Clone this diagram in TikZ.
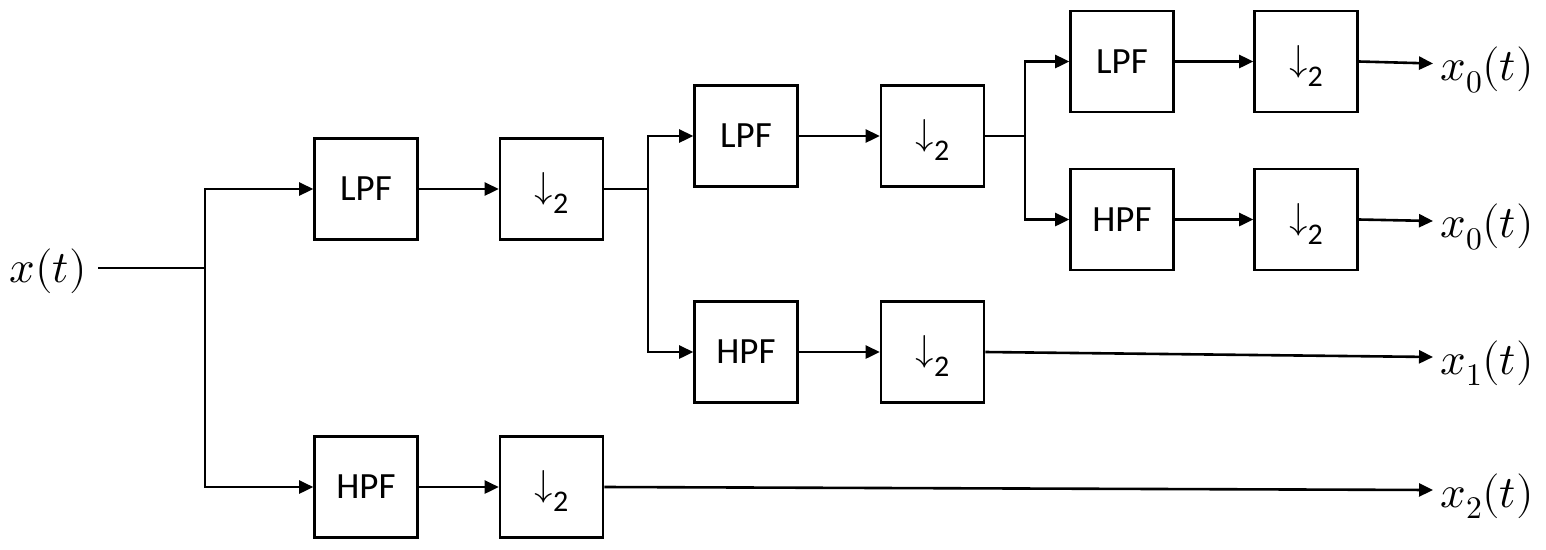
\documentclass[tikz,border=0pt]{standalone}
\usepackage{fontspec}
\usepackage{unicode-math}
\setmainfont{Carlito}
\setmathfont{Latin Modern Math}
\usetikzlibrary{arrows.meta}
\begin{document}
\begin{tikzpicture}[x=1pt,y=-1pt,
  line width=2.6pt,
  block/.style={draw, minimum width=103pt, minimum height=101pt, inner sep=0pt,
    font=\fontsize{37}{40}\selectfont},
  arr/.style={-{Triangle[length=14pt,width=13pt]}},
  sig/.style={inner sep=0pt, font=\fontsize{45}{48}\selectfont},
]
\newcommand{\dsamp}{$\downarrow$\smash{\raisebox{-15pt}{\fontsize{30}{30}\selectfont 2}}}
\useasboundingbox (0,0) rectangle (1546,549);

% input
\node[sig, anchor=east] (xin) at (88,271) {$x(t)$};
\coordinate (j1) at (205,268);

% first stage
\node[block] (lpf1) at (366,189) {LPF};
\node[block] (ds1)  at (551.5,189) {\dsamp};
\node[block] (hpf1) at (366,487) {HPF};
\node[block] (ds4)  at (551.5,487) {\dsamp};
\coordinate (j2) at (648,189);

% second stage
\node[block] (lpf2) at (746,136) {LPF};
\node[block] (ds2)  at (932.5,136) {\dsamp};
\node[block] (hpf2) at (746,352) {HPF};
\node[block] (ds3)  at (932.5,352) {\dsamp};
\coordinate (j3) at (1025,136);

% third stage
\node[block] (lpf3) at (1122,61.5) {LPF};
\node[block] (ds5)  at (1306,61.5) {\dsamp};
\node[block] (hpf3) at (1122,219.5) {HPF};
\node[block] (ds6)  at (1306,219.5) {\dsamp};

% output ends
\coordinate (e0a) at (1433,63.5);
\coordinate (e0b) at (1433,221);
\coordinate (e1)  at (1433,357);
\coordinate (e2)  at (1433,490);
\node[sig, anchor=west] (y0a) at (1439,70) {$x_0(t)$};
\node[sig, anchor=west] (y0b) at (1439,227) {$x_0(t)$};
\node[sig, anchor=west] (y1)  at (1439,363) {$x_1(t)$};
\node[sig, anchor=west] (y2)  at (1439,496) {$x_2(t)$};

% connectors
\draw ([xshift=10pt]xin.east |- j1) -- (j1);
\draw[arr] (j1) |- (lpf1.west);
\draw[arr] (j1) |- (hpf1.west);
\draw[arr] (lpf1) -- (ds1);
\draw[arr] (hpf1) -- (ds4);
\draw (ds1.east) -- (j2);
\draw[arr] (j2) |- (lpf2.west);
\draw[arr] (j2) |- (hpf2.west);
\draw[arr] (lpf2) -- (ds2);
\draw[arr] (hpf2) -- (ds3);
\draw (ds2.east) -- (j3);
\draw[arr] (j3) |- (lpf3.west);
\draw[arr] (j3) |- (hpf3.west);
\draw[arr] (lpf3) -- (ds5);
\draw[arr] (hpf3) -- (ds6);
\draw[arr] (ds5.east) -- (e0a);
\draw[arr] (ds6.east) -- (e0b);
\draw[arr] (ds3.east) -- (e1);
\draw[arr] (ds4.east) -- (e2);
\end{tikzpicture}
\end{document}
